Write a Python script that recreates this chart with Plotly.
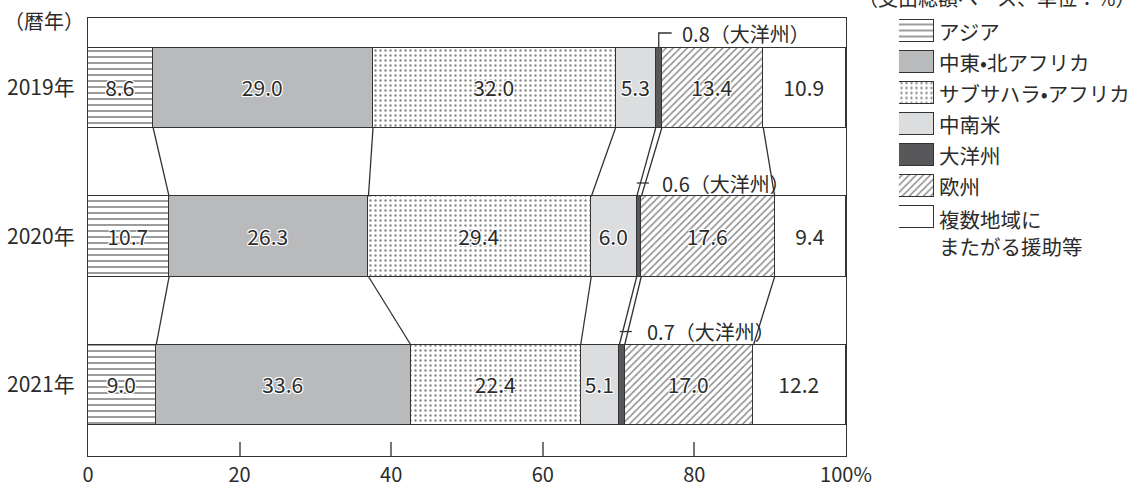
import plotly.graph_objects as go

# ---- data -------------------------------------------------------------
years = ["2019年", "2020年", "2021年"]
regions = ["アジア", "中東•北アフリカ", "サブサハラ•アフリカ", "中南米", "大洋州", "欧州", "複数地域に<br>またがる援助等"]

asia = [8.6, 10.7, 9.0]
mena = [29.0, 26.3, 33.6]
sub_saharan = [32.0, 29.4, 22.4]
latin_america = [5.3, 6.0, 5.1]
oceania = [0.8, 0.6, 0.7]
europe = [13.4, 17.6, 17.0]
multi_region = [10.9, 9.4, 12.2]

x_tickvals = [0, 20, 40, 60, 80, 100]
x_ticktext = ["0", "20", "40", "60", "80", "100%"]

series = [asia, mena, sub_saharan, latin_america, oceania, europe, multi_region]

# ---- styling ----------------------------------------------------------
FONT = "Noto Sans CJK JP"
INK = "#2b2b2b"
EDGE = "#333333"
HALO = "-1px -1px 0 #fff, 1px -1px 0 #fff, -1px 1px 0 #fff, 1px 1px 0 #fff, 0 0 2px #fff"

fills = [
    dict(color="white", pattern=dict(shape="-", fgcolor="#222", bgcolor="white", size=6, solidity=0.3)),
    dict(color="#b9babc"),
    dict(color="white", pattern=dict(shape=".", fgcolor="#111", bgcolor="white", size=5, solidity=0.18)),
    dict(color="#dcddde"),
    dict(color="#58585a"),
    dict(color="white", pattern=dict(shape="/", fgcolor="#222", bgcolor="white", size=5, solidity=0.32)),
    dict(color="white"),
]
show_value = [True, True, True, True, False, True, True]

BAR_W = 0.539
y_pos = list(range(len(years)))

fig = go.Figure()

for name, vals, fill, show in zip(regions, series, fills, show_value):
    marker = dict(fill)
    marker["line"] = dict(color=EDGE, width=1.5)
    fig.add_trace(go.Bar(
        x=vals, y=y_pos, orientation="h", name=name, width=BAR_W,
        marker=marker,
        text=[f"{v:.1f}" for v in vals] if show else None,
        textposition="inside" if show else "none",
        insidetextanchor="middle", textangle=0,
        textfont=dict(family=FONT, size=21, color=INK, shadow=HALO),
        showlegend=False, hoverinfo="skip",
    ))

# ---- connector lines between consecutive years -----------------------
def cumulative(i):
    out, s = [], 0.0
    for vals in series[:-1]:
        s += vals[i]
        out.append(s)
    return out

half = BAR_W / 2
for i in range(len(years) - 1):
    top_cum = cumulative(i)
    bot_cum = cumulative(i + 1)
    for a, b in zip(top_cum, bot_cum):
        fig.add_shape(type="line", xref="x", yref="y",
                      x0=a, y0=i + half, x1=b, y1=i + 1 - half,
                      line=dict(color=EDGE, width=1.3))

# ---- Oceania call-outs ------------------------------------------------
label_y = [-0.37, 0.64, 1.64]
text_gap = [2.4, 2.5, 2.7]
for i in range(len(years)):
    cum = cumulative(i)
    start, end = cum[3], cum[4]
    mid = (start + end) / 2
    if i == 0:
        fig.add_shape(type="path", xref="x", yref="y",
                      path=f"M {mid},{i - half} L {mid},{label_y[i]} L {mid + 1.7},{label_y[i]}",
                      line=dict(color=EDGE, width=1.3))
    else:
        fig.add_shape(type="line", xref="x", yref="y",
                      x0=mid - 0.3, y0=label_y[i], x1=mid + 1.3, y1=label_y[i],
                      line=dict(color=EDGE, width=1.3))
    fig.add_annotation(x=end + text_gap[i], y=label_y[i], xref="x", yref="y",
                       text=f"{oceania[i]:.1f}（大洋州）", showarrow=False,
                       xanchor="left", yanchor="middle",
                       font=dict(family=FONT, size=20, color=INK))

# ---- legend drawn as a small bar chart --------------------------------
for k, (name, fill) in enumerate(zip(regions, fills)):
    marker = dict(fill)
    marker["line"] = dict(color=EDGE, width=1.3)
    fig.add_trace(go.Bar(
        x=[1], y=[k], orientation="h", width=0.71, marker=marker,
        xaxis="x2", yaxis="y2", showlegend=False, hoverinfo="skip",
    ))
    multiline = "<br>" in name
    fig.add_annotation(x=1, y=k, xref="x2", yref="y2", text=name,
                       showarrow=False, xanchor="left", align="left",
                       yanchor="top" if multiline else "middle",
                       xshift=4, yshift=14 if multiline else 0, borderpad=0,
                       font=dict(family=FONT, size=20.5, color=INK))

# ---- titles / units ---------------------------------------------------
fig.add_annotation(x=-0.0423, y=0.976, xref="paper", yref="paper", text="（暦年）",
                   showarrow=False, xanchor="center", yanchor="middle",
                   font=dict(family=FONT, size=20, color=INK))
fig.add_annotation(x=1.0067, y=1.028, xref="paper", yref="paper",
                   text="（支出総額ベース、単位：%）", showarrow=False,
                   xanchor="right", yanchor="middle",
                   font=dict(family=FONT, size=20, color=INK))

fig.update_layout(
    width=1140, height=488,
    margin=dict(l=88, r=10, t=10, b=32, autoexpand=False),
    barmode="stack", bargap=0,
    paper_bgcolor="white", plot_bgcolor="white",
    font=dict(family=FONT, size=21, color=INK),
    xaxis=dict(domain=[0, 0.7274], range=[0, 100], tickvals=x_tickvals, ticktext=x_ticktext,
               ticks="inside", ticklen=14, tickwidth=1.5, tickcolor="#777",
               showgrid=False, zeroline=False, showline=True, mirror=True, automargin=False,
               linecolor=EDGE, linewidth=1.3, ticklabelstandoff=1,
               tickfont=dict(family=FONT, size=20, color=INK)),
    yaxis=dict(domain=[0, 0.98206], range=[2.478, -0.471], tickvals=y_pos, ticktext=years,
               ticks="", showgrid=False, zeroline=False, showline=True, mirror=True, automargin=False,
               linecolor=EDGE, linewidth=1.3, ticklabelstandoff=8,
               tickfont=dict(family=FONT, size=21, color=INK)),
    xaxis2=dict(domain=[0.7783, 0.8119], range=[0, 1], visible=False, anchor="y2", automargin=False),
    yaxis2=dict(domain=[0.50112, 0.98767], range=[6.5, -0.5], visible=False, anchor="x2", automargin=False),
)

fig.write_html("out.html")
